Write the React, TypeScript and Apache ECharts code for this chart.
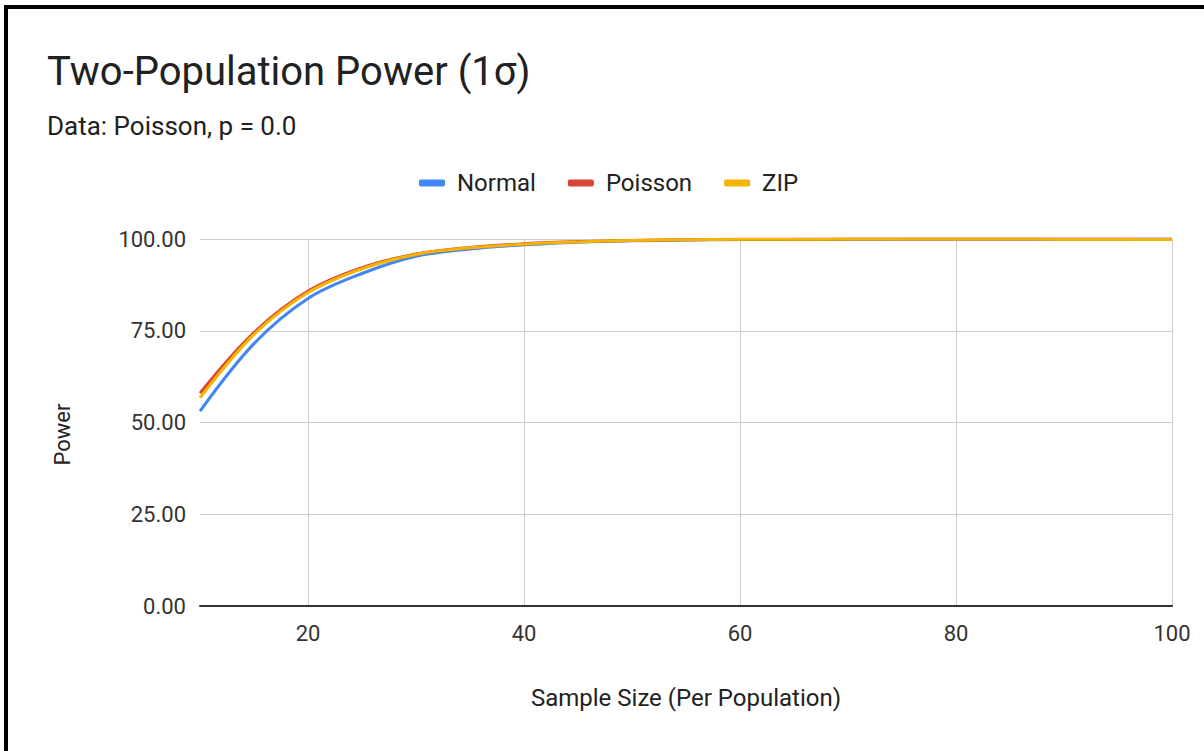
import React, { useEffect, useRef } from "react";
import * as echarts from "echarts";

const sampleSizes = [10, 15, 20, 25, 30, 35, 40, 45, 50, 55, 60, 65, 70, 75, 80, 85, 90, 95, 100];
const normalPower = [53.1, 71.5, 83.8, 90.6, 95.3, 97.3, 98.4, 99.1, 99.5, 99.7, 99.85, 99.9, 99.95, 99.97, 99.98, 99.99, 99.99, 99.99, 100];
const poissonPower = [58.0, 74.5, 85.8, 92.2, 95.9, 97.7, 98.7, 99.3, 99.6, 99.8, 99.9, 99.95, 99.97, 99.98, 99.99, 99.99, 99.99, 99.99, 100];
const zipPower = [56.7, 74.0, 85.4, 91.9, 95.8, 97.6, 98.6, 99.2, 99.6, 99.8, 99.9, 99.95, 99.97, 99.98, 99.99, 99.99, 99.95, 99.9, 99.85];
const xTicks = [20, 40, 60, 80, 100];
const seriesNames = ["Normal", "Poisson", "ZIP"];
const seriesColors = ["#4285F4", "#DB4437", "#F4B400"];

const FONT = "Roboto, 'Noto Sans', sans-serif";

export default function App() {
  const ref = useRef<HTMLDivElement>(null);
  useEffect(() => {
    if (!ref.current) return;
    const chart = echarts.init(ref.current, undefined, { renderer: "svg" });
    const values = [normalPower, poissonPower, zipPower];
    chart.setOption({
      animation: false,
      backgroundColor: "#ffffff",
      textStyle: { fontFamily: FONT },
      title: {
        text: "Two-Population Power (1σ)",
        subtext: "Data: Poisson, p = 0.0",
        left: 42,
        top: 46,
        itemGap: 22,
        textStyle: { fontFamily: FONT, fontSize: 40, fontWeight: "normal", color: "#212121" },
        subtextStyle: { fontFamily: FONT, fontSize: 26, color: "#212121" },
      },
      legend: {
        left: 414,
        top: 166,
        itemWidth: 26,
        itemHeight: 7,
        itemGap: 32,
        icon: "roundRect",
        textStyle: { fontFamily: FONT, fontSize: 24, color: "#222", padding: [0, 0, 0, 7] },
        data: seriesNames,
      },
      grid: { left: 200, right: 32, top: 239, bottom: 145, containLabel: false },
      xAxis: {
        type: "value",
        min: 10,
        max: 100,
        name: "Sample Size (Per Population)",
        nameLocation: "middle",
        nameGap: 80,
        nameTextStyle: { fontFamily: FONT, fontSize: 24, color: "#222" },
        axisLine: { show: true, lineStyle: { color: "#333", width: 2 } },
        axisTick: { show: false, customValues: xTicks },
        axisLabel: { customValues: xTicks, fontFamily: FONT, fontSize: 22, color: "#333", margin: 16 },
        splitLine: { show: true, lineStyle: { color: "#cccccc", width: 1 } },
      },
      yAxis: {
        type: "value",
        min: 0,
        max: 100,
        interval: 25,
        name: "Power",
        nameLocation: "middle",
        nameRotate: 90,
        nameGap: 127,
        nameTextStyle: { fontFamily: FONT, fontSize: 22, color: "#222", padding: [0, 24, 0, 0] },
        axisLine: { show: false },
        axisTick: { show: false },
        axisLabel: {
          fontFamily: FONT,
          fontSize: 22,
          color: "#333",
          margin: 14,
          formatter: (v: number) => v.toFixed(2),
        },
        splitLine: { show: true, lineStyle: { color: "#cccccc", width: 1 } },
      },
      series: seriesNames.map((name, i) => ({
        name,
        type: "line",
        smooth: 0.35,
        showSymbol: false,
        symbol: "none",
        color: seriesColors[i],
        lineStyle: { width: 3, color: seriesColors[i] },
        data: sampleSizes.map((x, j) => [x, values[i][j]]),
      })),
    });
    return () => chart.dispose();
  }, []);
  return (
    <>
      <div
        ref={ref}
        style={{ position: "fixed", left: 0, top: 0, width: 1204, height: 751, background: "#fff" }}
      />
      <div
        style={{
          position: "fixed",
          left: 4,
          top: 5,
          width: 1400,
          height: 1000,
          border: "4px solid #000",
          boxSizing: "border-box",
          pointerEvents: "none",
        }}
      />
    </>
  );
}
